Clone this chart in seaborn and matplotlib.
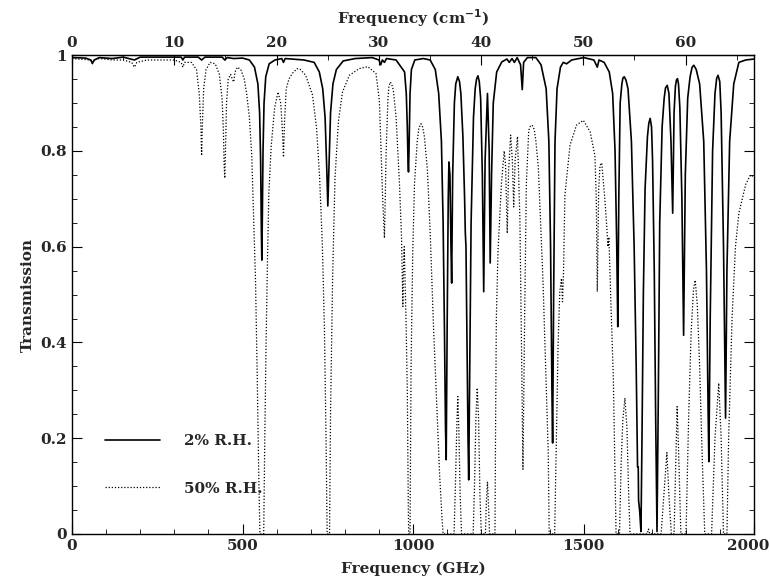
import numpy as np
import pandas as pd
import matplotlib
matplotlib.use("Agg")
import matplotlib.pyplot as plt
from matplotlib.ticker import MultipleLocator, FixedLocator
from matplotlib.transforms import ScaledTranslation
import seaborn as sns

# Transmission, 2% R.H. (solid)
freq_2rh = [0, 40, 55, 60, 65, 80, 118, 150, 183, 200, 320, 325, 330, 370, 380, 390,
            440, 448, 455, 474, 500, 520, 535, 545, 550, 553, 555, 556.5, 558, 560,
            563, 568, 578, 595, 615, 620, 625, 680, 710, 725, 735, 742, 747, 750,
            753, 758, 765, 775, 795, 830, 880, 900, 905, 910, 916, 922, 950, 965,
            970, 975, 980, 983, 985, 986.5, 988, 991, 995, 1005, 1030, 1050, 1065,
            1075, 1083, 1088, 1092, 1095, 1097, 1100, 1103, 1105, 1108, 1111, 1113,
            1116, 1121, 1125, 1131, 1136, 1140, 1146, 1151, 1153, 1155, 1158, 1161,
            1163, 1166, 1170, 1177, 1182, 1186, 1190, 1194, 1198, 1203, 1207, 1211,
            1218, 1223, 1226, 1230, 1235, 1245, 1260, 1275, 1282, 1290, 1297, 1305,
            1315, 1320, 1324, 1335, 1360, 1375, 1390, 1398, 1403, 1407, 1409, 1412,
            1416, 1422, 1432, 1440, 1450, 1465, 1500, 1530, 1540, 1545, 1560, 1575,
            1585, 1592, 1597, 1600, 1603, 1607, 1612, 1615, 1619, 1624, 1630, 1640,
            1648, 1654, 1658, 1660, 1661, 1664, 1668, 1671, 1675, 1680, 1687, 1691,
            1695, 1699, 1702, 1707, 1711, 1715, 1719, 1723, 1730, 1736, 1740, 1745,
            1750, 1756, 1761, 1765, 1769, 1772, 1775, 1778, 1782, 1788, 1793, 1798,
            1805, 1812, 1818, 1823, 1830, 1840, 1852, 1860, 1865, 1867, 1871, 1878,
            1885, 1890, 1894, 1899, 1903, 1910, 1914, 1916, 1920, 1928, 1940, 1955,
            1975, 2000]
trans_2rh = [0.995, 0.994, 0.99, 0.983, 0.99, 0.995, 0.993, 0.996, 0.99, 0.996, 0.996, 0.99,
             0.996, 0.996, 0.99, 0.996, 0.996, 0.99, 0.995, 0.993, 0.994, 0.99, 0.975,
             0.94, 0.88, 0.78, 0.64, 0.572, 0.66, 0.80, 0.90, 0.955, 0.982, 0.99, 0.993,
             0.985, 0.993, 0.99, 0.985, 0.965, 0.93, 0.87, 0.76, 0.685, 0.76, 0.88, 0.94,
             0.97, 0.988, 0.993, 0.995, 0.99, 0.98, 0.99, 0.985, 0.993, 0.99, 0.975, 0.97,
             0.965, 0.92, 0.85, 0.78, 0.756, 0.80, 0.92, 0.97, 0.99, 0.993, 0.99, 0.97,
             0.92, 0.82, 0.65, 0.42, 0.22, 0.155, 0.45, 0.70, 0.777, 0.75, 0.60, 0.524,
             0.75, 0.90, 0.94, 0.955, 0.945, 0.92, 0.83, 0.70, 0.63, 0.60, 0.40, 0.20,
             0.113, 0.35, 0.65, 0.87, 0.93, 0.95, 0.957, 0.945, 0.91, 0.75, 0.506, 0.78,
             0.92, 0.80, 0.566, 0.75, 0.90, 0.965, 0.986, 0.992, 0.985, 0.993, 0.985,
             0.995, 0.98, 0.928, 0.985, 0.995, 0.995, 0.98, 0.93, 0.82, 0.60, 0.30, 0.19,
             0.50, 0.82, 0.93, 0.975, 0.985, 0.982, 0.99, 0.995, 0.99, 0.975, 0.99, 0.985,
             0.965, 0.92, 0.80, 0.60, 0.433, 0.70, 0.90, 0.94, 0.952, 0.955, 0.948, 0.93,
             0.82, 0.60, 0.35, 0.14, 0.14, 0.07, 0.05, 0.005, 0.20, 0.50, 0.72, 0.83,
             0.858, 0.868, 0.85, 0.78, 0.55, 0.25, 0.005, 0.30, 0.65, 0.85, 0.91, 0.932,
             0.937, 0.92, 0.82, 0.67, 0.88, 0.935, 0.948, 0.951, 0.94, 0.89, 0.70, 0.415,
             0.75, 0.91, 0.955, 0.975, 0.979, 0.97, 0.94, 0.82, 0.55, 0.25, 0.151, 0.45,
             0.80, 0.92, 0.952, 0.958, 0.945, 0.88, 0.60, 0.35, 0.242, 0.55, 0.82, 0.94,
             0.985, 0.99, 0.992]

# Transmission, 50% R.H. (dotted)
freq_50rh = [0, 55, 60, 65, 80, 118, 150, 175, 183, 190, 220, 300, 320, 325, 330, 350,
             365, 373, 378, 380, 382, 386, 393, 405, 420, 432, 440, 444, 446, 448, 450,
             453, 458, 465, 470, 474, 478, 485, 495, 505, 512, 520, 527, 532, 538, 543,
             548, 551, 562, 565, 569, 573, 577, 584, 594, 604, 612, 617, 620, 623, 628,
             636, 646, 660, 670, 685, 705, 717, 726, 734, 740, 745, 748, 755, 758, 764,
             771, 781, 793, 813, 842, 867, 891, 901, 906, 911, 916, 921, 926, 929, 933,
             937, 942, 950, 960, 966, 968, 970, 972, 974, 979, 983, 986, 987, 991, 994,
             999, 1004, 1012, 1017, 1023, 1028, 1033, 1042, 1050, 1060, 1070, 1078, 1085,
             1088, 1120, 1124, 1128, 1131, 1134, 1138, 1142, 1176, 1180, 1184, 1188,
             1192, 1196, 1200, 1212, 1215, 1218, 1221, 1224, 1240, 1242, 1244, 1249,
             1259, 1267, 1271, 1276, 1280, 1286, 1291, 1295, 1299, 1306, 1313, 1318,
             1322, 1327, 1332, 1339, 1344, 1349, 1355, 1360, 1367, 1381, 1396, 1399,
             1415, 1425, 1430, 1435, 1438, 1441, 1445, 1460, 1479, 1499, 1519, 1533,
             1537, 1540, 1544, 1548, 1553, 1562, 1568, 1571, 1574, 1580, 1587, 1595,
             1605, 1610, 1615, 1621, 1627, 1632, 1636, 1686, 1690, 1694, 1727, 1735,
             1744, 1750, 1757, 1765, 1770, 1774, 1778, 1785, 1800, 1808, 1815, 1822,
             1827, 1833, 1840, 1848, 1855, 1875, 1885, 1896, 1903, 1910, 1920, 1925,
             1935, 1945, 1955, 1965, 1975, 1984, 1990, 2000]
trans_50rh = [0.993, 0.99, 0.982, 0.99, 0.993, 0.99, 0.99, 0.985, 0.975, 0.985, 0.99, 0.99,
              0.985, 0.975, 0.985, 0.985, 0.97, 0.92, 0.85, 0.79, 0.85, 0.93, 0.97, 0.985,
              0.982, 0.96, 0.91, 0.84, 0.77, 0.743, 0.80, 0.90, 0.95, 0.96, 0.95, 0.944,
              0.965, 0.975, 0.97, 0.95, 0.92, 0.87, 0.79, 0.67, 0.53, 0.33, 0.10, 0.0, 0.0,
              0.19, 0.40, 0.57, 0.71, 0.81, 0.89, 0.923, 0.90, 0.84, 0.787, 0.86, 0.93,
              0.95, 0.962, 0.972, 0.97, 0.958, 0.917, 0.848, 0.743, 0.603, 0.43, 0.186,
              0.0, 0.0, 0.255, 0.534, 0.743, 0.861, 0.923, 0.958, 0.972, 0.976, 0.962,
              0.906, 0.80, 0.697, 0.618, 0.80, 0.906, 0.935, 0.944, 0.94, 0.927, 0.871,
              0.732, 0.621, 0.55, 0.475, 0.56, 0.60, 0.454, 0.30, 0.05, 0.0, 0.0, 0.35,
              0.59, 0.73, 0.82, 0.848, 0.857, 0.85, 0.83, 0.76, 0.63, 0.43, 0.26, 0.12,
              0.03, 0.0, 0.0, 0.10, 0.22, 0.287, 0.22, 0.08, 0.0, 0.0, 0.10, 0.24, 0.305,
              0.24, 0.08, 0.0, 0.0, 0.07, 0.109, 0.06, 0.0, 0.0, 0.25, 0.45, 0.593, 0.732,
              0.80, 0.77, 0.628, 0.76, 0.833, 0.78, 0.683, 0.78, 0.83, 0.66, 0.38, 0.135,
              0.454, 0.732, 0.843, 0.852, 0.854, 0.845, 0.82, 0.767, 0.524, 0.175, 0.0,
              0.0, 0.395, 0.506, 0.534, 0.485, 0.55, 0.708, 0.812, 0.854, 0.864, 0.84,
              0.79, 0.70, 0.506, 0.72, 0.77, 0.775, 0.70, 0.64, 0.60, 0.62, 0.48, 0.326,
              0.0, 0.0, 0.15, 0.24, 0.284, 0.22, 0.08, 0.0, 0.0, 0.01, 0.0, 0.0, 0.08,
              0.17, 0.08, 0.0, 0.0, 0.15, 0.266, 0.18, 0.0, 0.0, 0.25, 0.42, 0.51, 0.53,
              0.48, 0.35, 0.15, 0.0, 0.0, 0.20, 0.315, 0.20, 0.0, 0.0, 0.20, 0.45, 0.60,
              0.67, 0.70, 0.73, 0.743, 0.75, 0.745]

x_ticks = [0, 500, 1000, 1500, 2000]
y_ticks = [0, 0.2, 0.4, 0.6, 0.8, 1.0]
y_tick_labels = ["0", "0.2", "0.4", "0.6", "0.8", "1"]
cm_ticks = [0, 10, 20, 30, 40, 50, 60]

GHZ_PER_CM = 29.9792

sns.set_style("ticks")
plt.rcParams['font.family'] = ['DejaVu Serif']
plt.rcParams['font.size'] = 11
plt.rcParams['font.weight'] = 'bold'
plt.rcParams['axes.labelweight'] = 'bold'

solid = pd.DataFrame({"freq": freq_2rh, "trans": trans_2rh})
dotted = pd.DataFrame({"freq": freq_50rh, "trans": trans_50rh})

fig = plt.figure(figsize=(7.7, 5.81), dpi=100)
ax = fig.add_axes([0.0935, 0.081, 0.886, 0.824])

sns.lineplot(data=solid, x="freq", y="trans", ax=ax, color="black", lw=1.2,
             estimator=None, sort=False, label="2% R.H.")
sns.lineplot(data=dotted, x="freq", y="trans", ax=ax, color="black", lw=0.9,
             linestyle=(0, (1, 1.5)), estimator=None, sort=False, label="50% R.H.")

ax.set_xticks(x_ticks, [str(t) for t in x_ticks])
ax.xaxis.set_minor_locator(MultipleLocator(100))
ax.set_yticks(y_ticks, y_tick_labels)
ax.yaxis.set_minor_locator(MultipleLocator(0.05))
ax.tick_params(which="both", direction="in", right=True, top=False, color="black")
ax.tick_params(which="major", length=7)
ax.tick_params(which="minor", length=3.5)
for s in ax.spines.values():
    s.set_color("black")
    s.set_linewidth(1.0)

# nudge the last bottom label so it stays inside the figure
last = ax.get_xticklabels()[-1]
last.set_transform(last.get_transform() + ScaledTranslation(-6 / 100, 0, fig.dpi_scale_trans))

ax.set_xlabel("Frequency (GHz)", labelpad=6)
ax.set_ylabel("Transmission", labelpad=4)

top = ax.secondary_xaxis("top", functions=(lambda f: f / GHZ_PER_CM, lambda k: k * GHZ_PER_CM))
top.xaxis.set_major_locator(FixedLocator(cm_ticks))
top.xaxis.set_minor_locator(MultipleLocator(5))
top.tick_params(which="both", direction="in", color="black")
top.tick_params(which="major", length=7)
top.tick_params(which="minor", length=3.5)
top.set_xlabel("Frequency (cm$^{-1}$)", labelpad=9)

ax.legend(loc="lower left", bbox_to_anchor=(0.028, 0.051), frameon=False,
          labelspacing=2.2, handlelength=3.6, handletextpad=1.6)

ax.set_xlim(0, 2000)
ax.set_ylim(0, 1)

fig.savefig("out.png", dpi=100)
